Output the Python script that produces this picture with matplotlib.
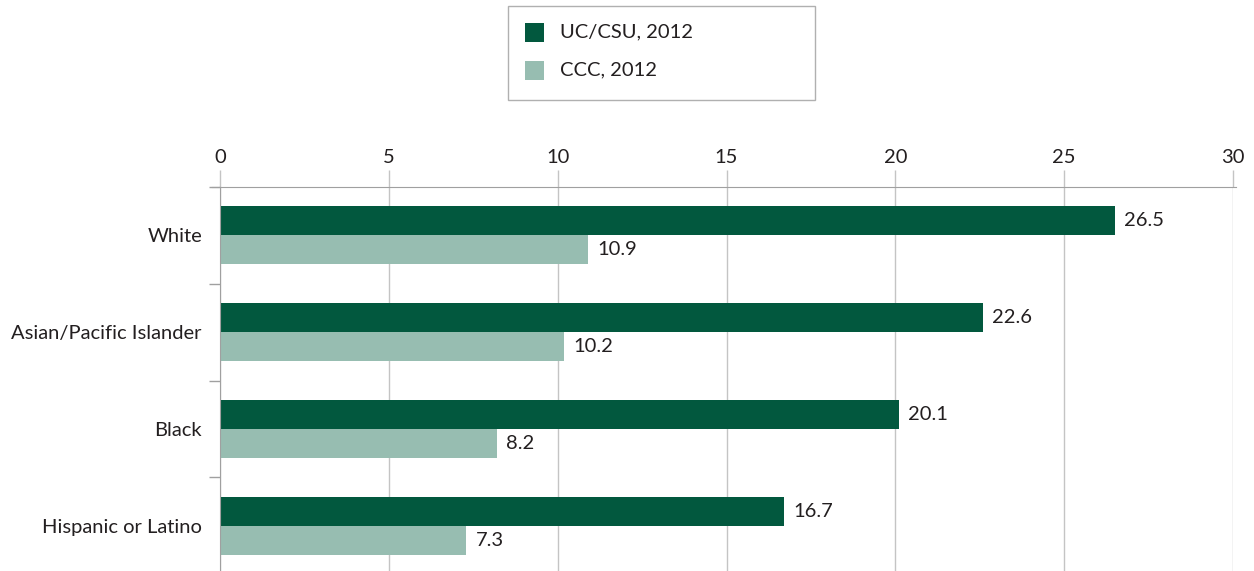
import matplotlib
matplotlib.use("Agg")
import matplotlib.pyplot as plt
from matplotlib.patches import Rectangle

categories = ["White", "Asian/Pacific Islander", "Black", "Hispanic or Latino"]
uc_csu_2012 = [26.5, 22.6, 20.1, 16.7]
ccc_2012 = [10.9, 10.2, 8.2, 7.3]
series_names = ["UC/CSU, 2012", "CCC, 2012"]
x_ticks = [0, 5, 10, 15, 20, 25, 30]

dark = "#02583e"
light = "#97bdb1"
txt = "#231f20"
grid = "#c4c4c4"

plt.rcParams['font.family'] = ['Lato', 'DejaVu Sans']
fs = 14.5

fig = plt.figure(figsize=(12.54, 5.71), dpi=100)
ax = fig.add_axes([220/1254, -3/571, (1233-220)/1254, (574-187)/571])

n = len(categories)
ypos = list(range(n))
h = 0.3
ax.barh([y - h/2 for y in ypos], uc_csu_2012, height=h, color=dark, zorder=3)
ax.barh([y + h/2 for y in ypos], ccc_2012, height=h, color=light, zorder=3)

for y, v in zip(ypos, uc_csu_2012):
    ax.text(v + 0.27, y - h/2, f"{v}", va="center", ha="left", fontsize=fs, color=txt)
for y, v in zip(ypos, ccc_2012):
    ax.text(v + 0.27, y + h/2, f"{v}", va="center", ha="left", fontsize=fs, color=txt)

ax.set_xlim(0, 30)
ax.set_ylim(n - 0.5, -0.5)
ax.set_xticks(x_ticks)
ax.set_xticklabels([str(t) for t in x_ticks])
ax.xaxis.tick_top()
ax.tick_params(axis="x", length=12, color=grid, width=1, labelsize=fs, labelcolor=txt, pad=3)
ax.set_yticks(ypos)
ax.set_yticklabels(categories)
ax.tick_params(axis="y", length=0, labelsize=fs, labelcolor=txt, pad=13)
ax.set_yticks([y + 0.5 for y in ypos[:-1]] + [-0.5], minor=True)
ax.tick_params(axis="y", which="minor", length=8, color="#a0a0a0", width=1)
ax.grid(axis="x", color=grid, linewidth=1, zorder=0)
for s in ["right", "bottom"]:
    ax.spines[s].set_visible(False)
ax.spines["left"].set_color("#a0a0a0")
ax.spines["top"].set_color("#a0a0a0")
ax.spines["top"].set_bounds(-0.25, 30.1)
ax.spines["left"].set_zorder(4)

fig.add_artist(Rectangle((508/1254, 1 - 100/571), (815-508)/1254, (100-6)/571,
                         transform=fig.transFigure, facecolor="white", edgecolor="#b0b0b0", lw=1))
for i, (name, col) in enumerate(zip(series_names, [dark, light])):
    yc = (32 + 38*i)
    fig.add_artist(Rectangle((525/1254, 1 - (yc+10)/571), 19/1254, 19/571,
                             transform=fig.transFigure, facecolor=col, edgecolor="none"))
    fig.text(560/1254, 1 - yc/571, name, va="center", ha="left", fontsize=fs, color=txt)

fig.savefig("out.png", dpi=100)
